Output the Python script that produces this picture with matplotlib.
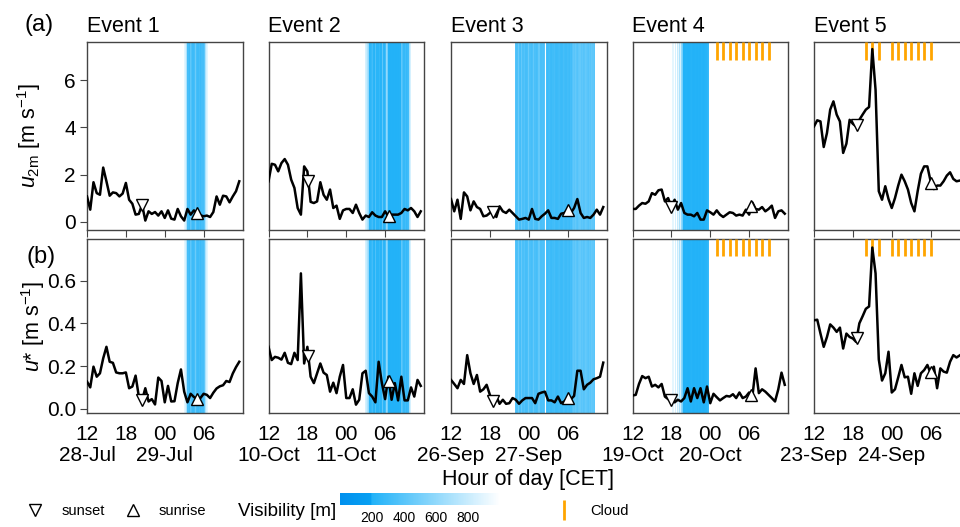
import numpy as np
import matplotlib
matplotlib.use("Agg")
import matplotlib.pyplot as plt
from matplotlib.colors import LinearSegmentedColormap, Normalize
from matplotlib.lines import Line2D
import matplotlib as mpl

plt.rcParams["font.family"] = ["Liberation Sans", "DejaVu Sans"]
plt.rcParams["mathtext.fontset"] = "custom"
plt.rcParams["mathtext.rm"] = "Liberation Sans"
plt.rcParams["mathtext.it"] = "Liberation Sans:italic"

# ---------------------------------------------------------------- data
event_titles = ["Event 1", "Event 2", "Event 3", "Event 4", "Event 5"]
day1_labels = ["28-Jul", "10-Oct", "26-Sep", "19-Oct", "23-Sep"]
day2_labels = ["29-Jul", "11-Oct", "27-Sep", "20-Oct", "24-Sep"]
hour_ticks = [0, 6, 12, 18]          # hours after 12:00 CET
hour_labels = ["12", "18", "00", "06"]
day_ticks = [0, 12]                   # 12:00 of day 1, 00:00 of day 2
step_h = 0.5                          # 30-min averages

u2m_e1 = [1.08, 0.52, 1.68, 1.22, 1.15, 2.3, 1.72, 1.11, 1.25, 1.22, 1.08, 1.2,
          1.65, 0.94, 0.77, 0.31, 0.34, 0.73, 0.06, 0.45, 0.34, 0.42, 0.27, 0.45,
          0.17, 0.49, 0.14, 0.1, 0.55, 0.24, 0.06, 0.55, 0.31, 0.49, 0.38, 0.28,
          0.24, 0.27, 0.21, 0.42, 1.08, 0.73, 1.11, 1.08, 0.83, 1.08, 1.3, 1.72]
u2m_e2 = [1.72, 2.46, 2.42, 2.14, 2.49, 2.66, 2.42, 1.79, 1.44, 0.59, 0.31, 2.35,
          2.14, 0.85, 0.80, 0.87, 1.68, 1.15, 0.94, 1.37, 0.59, 0.69, 0.13, 0.49,
          0.55, 0.55, 0.38, 0.73, 0.38, 0.1, 0.27, 0.21, 0.41, 0.27, 0.21, 0.21,
          0.45, 0.24, 0.31, 0.31, 0.31, 0.38, 0.55, 0.49, 0.59, 0.45, 0.21, 0.45]
u2m_e3 = [0.97, 0.45, 0.94, 0.13, 1.25, 1.08, 0.49, 0.87, 0.63, 0.55, 0.24, 0.27,
          0.38, 0.45, 0.21, 0.66, 0.45, 0.38, 0.52, 0.38, 0.24, 0.1, 0.13, 0.17,
          0.1, 0.55, 0.13, 0.1, 0.24, 0.35, 0.49, 0.17, 0.17, 0.13, 0.35, 0.38,
          0.52, 0.38, 0.59, 0.97, 0.38, 0.17, 0.21, 0.17, 0.31, 0.52, 0.31, 0.63]
u2m_e4 = [0.55, 0.55, 0.69, 0.8, 0.77, 0.87, 1.22, 1.15, 1.34, 1.37, 0.87, 1.01,
          0.63, 0.94, 0.52, 0.8, 0.38, 0.31, 0.31, 0.24, 0.38, 0.1, 0.1, 0.49,
          0.41, 0.31, 0.49, 0.31, 0.21, 0.31, 0.41, 0.38, 0.27, 0.31, 0.27, 0.52,
          0.31, 0.83, 0.55, 0.52, 0.63, 0.45, 0.55, 0.69, 0.17, 0.45, 0.49, 0.35]
u2m_e5 = [4.04, 4.3, 4.25, 3.17, 3.76, 4.75, 5.1, 4.54, 4.25, 2.92, 3.31, 4.32,
          4.15, 4.04, 4.32, 4.54, 4.75, 4.86, 7.31, 5.59, 1.3, 0.94, 1.51, 0.97,
          0.59, 1.01, 1.54, 2.0, 1.72, 1.37, 0.8, 0.45, 1.3, 2.04, 2.35, 2.35,
          1.72, 1.39, 1.54, 1.54, 1.72, 1.96, 2.1, 1.82, 1.72, 1.75, 1.8, 1.7]

ustar_e1 = [0.127, 0.10, 0.197, 0.15, 0.166, 0.236, 0.29, 0.22, 0.215, 0.17, 0.166, 0.166,
            0.17, 0.096, 0.104, 0.155, 0.057, 0.04, 0.096, 0.034, 0.045, 0.02, 0.146, 0.13,
            0.03, 0.107, 0.034, 0.035, 0.12, 0.184, 0.08, 0.03, 0.07, 0.055, 0.045, 0.05,
            0.07, 0.065, 0.05, 0.075, 0.095, 0.105, 0.11, 0.13, 0.125, 0.165, 0.195, 0.22]
ustar_e2 = [0.29, 0.228, 0.243, 0.239, 0.23, 0.262, 0.215, 0.209, 0.262, 0.228, 0.634, 0.212,
            0.29, 0.15, 0.12, 0.166, 0.212, 0.169, 0.158, 0.08, 0.122, 0.073, 0.15, 0.205,
            0.05, 0.05, 0.091, 0.019, 0.042, 0.166, 0.178, 0.073, 0.057, 0.03, 0.22, 0.12,
            0.045, 0.15, 0.042, 0.12, 0.039, 0.15, 0.039, 0.039, 0.10, 0.057, 0.135, 0.107]
ustar_e3 = [0.135, 0.116, 0.096, 0.135, 0.116, 0.251, 0.166, 0.116, 0.158, 0.08, 0.091, 0.112,
            0.065, 0.034, 0.057, 0.023, 0.042, 0.023, 0.026, 0.05, 0.042, 0.023, 0.039, 0.05,
            0.05, 0.05, 0.026, 0.07, 0.076, 0.08, 0.039, 0.039, 0.03, 0.057, 0.026, 0.034,
            0.05, 0.045, 0.06, 0.178, 0.178, 0.091, 0.112, 0.122, 0.138, 0.143, 0.15, 0.216]
ustar_e4 = [0.062, 0.065, 0.116, 0.153, 0.143, 0.15, 0.104, 0.112, 0.10, 0.116, 0.057, 0.045,
            0.042, 0.03, 0.042, 0.034, 0.05, 0.096, 0.034, 0.096, 0.05, 0.096, 0.03, 0.104,
            0.026, 0.07, 0.054, 0.039, 0.05, 0.06, 0.057, 0.068, 0.05, 0.076, 0.05, 0.057,
            0.076, 0.057, 0.189, 0.073, 0.091, 0.08, 0.065, 0.05, 0.034, 0.091, 0.169, 0.112]
ustar_e5 = [0.414, 0.417, 0.352, 0.29, 0.336, 0.395, 0.38, 0.36, 0.38, 0.282, 0.352, 0.336,
            0.329, 0.313, 0.40, 0.433, 0.468, 0.479, 0.755, 0.634, 0.231, 0.132, 0.166, 0.267,
            0.076, 0.091, 0.147, 0.205, 0.147, 0.15, 0.07, 0.166, 0.107, 0.166, 0.181, 0.205,
            0.166, 0.197, 0.096, 0.189, 0.174, 0.169, 0.22, 0.251, 0.24, 0.25, 0.26, 0.25]

sunset_h = [8.5, 6.15, 6.55, 6.0, 6.6]
sunrise_h = [17.0, 18.6, 18.1, 18.35, 18.1]

# visibility [m], 10-min values from the given start hour
vis_step_h = 1.0 / 6.0
vis_start_h = [15.0, 14.83, 9.83, 6.17, None]
vis_e1 = [900, 850, 700, 330, 300, 420, 360, 300, 300, 330, 460, 330, 300, 300, 330,
          300, 330, 330, 420, 700, 850, 900]
vis_e2 = [850, 800, 700, 600, 230, 240, 270, 320, 230, 220, 360, 230, 230, 270, 220,
          230, 420, 240, 230, 320, 600, 500, 205, 200, 205, 200, 200, 205, 200, 200,
          205, 200, 210, 205, 420, 360, 270, 320, 270, 300, 320, 700, 850]
vis_e3 = [380, 350, 360, 460, 350, 330, 440, 350, 350, 380, 330, 350, 460, 360, 350,
          330, 350, 430, 350, 350, 330, 350, 440, 350, 350, 360, 350, 400, 1100,
          330, 300, 310, 320, 300, 290, 310, 330, 300, 290, 300, 310, 320, 300, 290,
          300, 330, 310, 300, 320, 310, 300, 330, 320,
          380, 420, 400, 440, 400, 380, 420, 440, 400, 420, 390, 400, 440, 420, 400,
          380, 420, 400, 440, 420, 400]
vis_e4 = [900, 1100, 850, 1100, 800, 900, 700, 850, 600, 500,
          205, 200, 210, 205, 200, 205, 210, 215, 205, 200, 205, 210, 205, 200, 210,
          205, 215, 210, 205, 210, 215, 220, 240, 280]
vis_e5 = []

cloud_h = [[], [], [], [13, 14, 15, 16, 17, 18, 19, 20, 21],
           [8, 9, 10, 12, 13, 14, 15, 16, 17, 18]]

u2m_all = [u2m_e1, u2m_e2, u2m_e3, u2m_e4, u2m_e5]
ustar_all = [ustar_e1, ustar_e2, ustar_e3, ustar_e4, ustar_e5]
vis_all = [vis_e1, vis_e2, vis_e3, vis_e4, vis_e5]

vis_cmap = LinearSegmentedColormap.from_list(
    "vis", [(0.0, "#0090ee"), (0.19, "#08a0f2"), (0.2, "#22b2f8"), (1.0, "#ffffff")])
vis_norm = Normalize(0, 1000)

# ---------------------------------------------------------------- figure
W, H = 960, 527
fig = plt.figure(figsize=(W / 100, H / 100), dpi=100)

def px_axes(x0, y_top, w, h):
    return fig.add_axes([x0 / W, 1 - (y_top + h) / H, w / W, h / H])

col_x = [87, 268.5, 451, 632.5, 814]
col_w = 155.5
rows = [(42, 188), (239, 174)]
ylims = [(-0.34, 7.61), (-0.02, 0.795)]
spine_col = "#444444"
mk = dict(ms=9, mfc="white", mec="black", mew=1.0, ls="")

for c in range(5):
    t = np.arange(len(u2m_all[c])) * step_h
    for r, series in enumerate([u2m_all[c], ustar_all[c]]):
        ax = px_axes(col_x[c], rows[r][0], col_w, rows[r][1])
        ax.set_xlim(0, 24)
        ax.set_ylim(*ylims[r])
        for s in ax.spines.values():
            s.set_color(spine_col)
            s.set_linewidth(1.0)

        # fog bands coloured by visibility
        if vis_start_h[c] is not None:
            for k, v in enumerate(vis_all[c]):
                if v >= 1000:
                    continue
                t0 = vis_start_h[c] + k * vis_step_h
                ax.axvspan(t0, t0 + vis_step_h, color=vis_cmap(vis_norm(v)),
                           lw=0, zorder=0)

        # cloud flags
        if cloud_h[c]:
            ax.vlines(cloud_h[c], 0.905, 1.0, transform=ax.get_xaxis_transform(),
                      color="#ffa500", lw=2, zorder=3)

        ax.plot(t, series, color="black", lw=1.8, zorder=4)
        ax.plot(sunset_h[c], np.interp(sunset_h[c], t, series), marker="v",
                zorder=5, **mk)
        ax.plot(sunrise_h[c], np.interp(sunrise_h[c], t, series), marker="^",
                zorder=5, **mk)

        ax.set_xticks(hour_ticks)
        if r == 0:
            ax.set_xticklabels([])
            ax.tick_params(axis="x", direction="out", length=5, color=spine_col)
            ax.set_title(event_titles[c], loc="left", fontsize=15.5, pad=7)
        else:
            ax.xaxis.remove_overlapping_locs = False
            ax.set_xticklabels(hour_labels, fontsize=15)
            ax.tick_params(axis="x", which="major", length=0, pad=9)
            ax.set_xticks(day_ticks, minor=True)
            ax.set_xticklabels([day1_labels[c], day2_labels[c]], minor=True,
                               fontsize=15)
            ax.tick_params(axis="x", which="minor", length=0, pad=23.5)

        if c == 0:
            ax.tick_params(axis="y", labelsize=15, length=5, color=spine_col, pad=3)
            if r == 0:
                ax.set_yticks([0, 2, 4, 6])
                ax.set_ylabel(r"$u_{\rm 2m}$ [m s$^{-1}$]", fontsize=15.5)
                ax.yaxis.set_label_coords(-0.28, 0.5)
            else:
                ax.set_yticks([0.0, 0.2, 0.4, 0.6])
                ax.set_yticklabels(["0.0", "0.2", "0.4", "0.6"])
                ax.set_ylabel(r"$u$* [m s$^{-1}$]", fontsize=15.5)
                ax.yaxis.set_label_coords(-0.255, 0.5)
        else:
            ax.set_yticks([])

fig.text(25 / W, 1 - 25 / H, "(a)", fontsize=17, va="center", ha="left")
fig.text(27 / W, 1 - 257 / H, "(b)", fontsize=17, va="center", ha="left")
fig.text(528 / W, 1 - 480 / H, "Hour of day [CET]", fontsize=15.5,
         va="center", ha="center")

# bottom legend: sun markers, visibility scale, cloud flag
sun_handles = [Line2D([], [], marker="v", **mk), Line2D([], [], marker="^", **mk)]
fig.legend(sun_handles, ["sunset", "sunrise"], loc="center left",
           bbox_to_anchor=(28 / W, 1 - 511 / H), frameon=False, fontsize=10.5,
           ncol=2, handlelength=1.0, handletextpad=1.3, columnspacing=1.4,
           borderpad=0, borderaxespad=0)
cloud_handle = [Line2D([], [], marker="|", ls="", ms=14, mew=2, color="#ffa500")]
fig.legend(cloud_handle, ["Cloud"], loc="center left",
           bbox_to_anchor=(557 / W, 1 - 511 / H), frameon=False, fontsize=10.5,
           handlelength=1.0, handletextpad=1.3, borderpad=0, borderaxespad=0)

fig.text(238 / W, 1 - 511 / H, "Visibility [m]", fontsize=13.5,
         va="center", ha="left")
cax = px_axes(340, 493, 160, 12)
cb = mpl.colorbar.ColorbarBase(cax, cmap=vis_cmap, norm=vis_norm,
                               orientation="horizontal")
cb.outline.set_visible(False)
cb.set_ticks([200, 400, 600, 800])
cax.tick_params(labelsize=10, length=0, pad=4)

fig.savefig("out.png", dpi=100)
